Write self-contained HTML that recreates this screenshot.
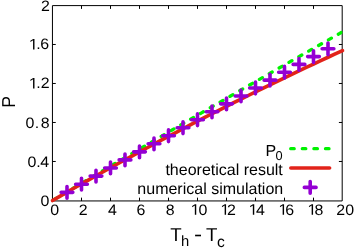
<!DOCTYPE html>
<html><head><meta charset="utf-8">
<style>
html,body{margin:0;padding:0;background:#fff;}
body{width:354px;height:248px;overflow:hidden;}
svg{display:block;will-change:transform;}
text{font-family:"Liberation Sans",sans-serif;fill:#000;text-rendering:geometricPrecision;}
</style></head><body>
<svg width="354" height="248" viewBox="0 0 354 248">
<rect width="354" height="248" fill="#fff"/>
<defs><clipPath id="c"><rect x="52.5" y="5.5" width="290.0" height="195.0"/></clipPath></defs>
<!-- frame -->
<path d="M52.45,5.6 H342.2 V200.95 H52.45 Z" fill="none" stroke="#000" stroke-width="1"/>
<path d="M81.50,200.95 v-3.3 M81.50,5.6 v3.3 M110.50,200.95 v-3.3 M110.50,5.6 v3.3 M139.50,200.95 v-3.3 M139.50,5.6 v3.3 M168.50,200.95 v-3.3 M168.50,5.6 v3.3 M197.50,200.95 v-3.3 M197.50,5.6 v3.3 M226.50,200.95 v-3.3 M226.50,5.6 v3.3 M255.50,200.95 v-3.3 M255.50,5.6 v3.3 M284.50,200.95 v-3.3 M284.50,5.6 v3.3 M313.50,200.95 v-3.3 M313.50,5.6 v3.3 M52.45,161.47 h3.3 M342.2,161.47 h-3.3 M52.45,122.47 h3.3 M342.2,122.47 h-3.3 M52.45,83.47 h3.3 M342.2,83.47 h-3.3 M52.45,44.47 h3.3 M342.2,44.47 h-3.3" stroke="#000" stroke-width="1" fill="none"/>
<!-- green P0 -->
<path d="M52.50,200.50 L56.12,198.34 L59.75,196.19 L63.38,194.03 L67.00,191.88 L70.62,189.73 L74.25,187.58 L77.88,185.43 L81.50,183.28 L85.12,181.13 L88.75,178.99 L92.38,176.84 L96.00,174.70 L99.62,172.56 L103.25,170.42 L106.88,168.28 L110.50,166.14 L114.12,164.00 L117.75,161.87 L121.38,159.73 L125.00,157.60 L128.62,155.47 L132.25,153.34 L135.88,151.21 L139.50,149.08 L143.12,146.95 L146.75,144.83 L150.38,142.70 L154.00,140.58 L157.62,138.45 L161.25,136.33 L164.88,134.21 L168.50,132.09 L172.12,129.98 L175.75,127.86 L179.38,125.74 L183.00,123.63 L186.62,121.52 L190.25,119.41 L193.88,117.30 L197.50,115.19 L201.12,113.08 L204.75,110.97 L208.38,108.87 L212.00,106.76 L215.62,104.66 L219.25,102.56 L222.88,100.46 L226.50,98.36 L230.12,96.26 L233.75,94.16 L237.38,92.07 L241.00,89.97 L244.62,87.88 L248.25,85.79 L251.88,83.70 L255.50,81.61 L259.12,79.52 L262.75,77.43 L266.38,75.35 L270.00,73.26 L273.62,71.18 L277.25,69.10 L280.88,67.02 L284.50,64.94 L288.12,62.86 L291.75,60.78 L295.38,58.70 L299.00,56.63 L302.62,54.56 L306.25,52.48 L309.88,50.41 L313.50,48.34 L317.12,46.27 L320.75,44.21 L324.38,42.14 L328.00,40.07 L331.62,38.01 L335.25,35.95 L338.88,33.89 L342.50,31.82" fill="none" stroke="#00f200" stroke-width="3.3" stroke-linecap="round" stroke-dasharray="3.4 7.96" stroke-dashoffset="10.11" clip-path="url(#c)"/>
<!-- red theory -->
<path d="M52.50,200.50 L59.75,196.33 L67.00,192.18 L74.25,188.05 L81.50,183.94 L88.75,179.86 L96.00,175.79 L103.25,171.75 L110.50,167.73 L117.75,163.74 L125.00,159.76 L132.25,155.81 L139.50,151.87 L146.75,147.96 L154.00,144.07 L161.25,140.20 L168.50,136.36 L175.75,132.54 L183.00,128.73 L190.25,124.95 L197.50,121.19 L204.75,117.46 L212.00,113.74 L219.25,110.05 L226.50,106.38 L233.75,102.73 L241.00,99.10 L248.25,95.49 L255.50,91.91 L262.75,88.34 L270.00,84.80 L277.25,81.28 L284.50,77.78 L291.75,74.31 L299.00,70.85 L306.25,67.42 L313.50,64.01 L320.75,60.62 L328.00,57.25 L335.25,53.91 L342.50,50.58" fill="none" stroke="#e2231a" stroke-width="3.6" stroke-linecap="round"/>
<!-- markers -->
<path d="M61.15,192.34 h11.7 M67.00,186.49 v11.7 M75.65,184.20 h11.7 M81.50,178.35 v11.7 M90.15,176.08 h11.7 M96.00,170.23 v11.7 M104.65,167.97 h11.7 M110.50,162.12 v11.7 M119.15,159.89 h11.7 M125.00,154.04 v11.7 M133.65,151.83 h11.7 M139.50,145.98 v11.7 M148.15,143.78 h11.7 M154.00,137.93 v11.7 M162.65,135.76 h11.7 M168.50,129.91 v11.7 M177.15,127.76 h11.7 M183.00,121.91 v11.7 M191.65,119.77 h11.7 M197.50,113.92 v11.7 M206.15,111.80 h11.7 M212.00,105.95 v11.7 M220.65,103.86 h11.7 M226.50,98.01 v11.7 M235.15,95.93 h11.7 M241.00,90.08 v11.7 M249.65,88.02 h11.7 M255.50,82.17 v11.7 M264.15,80.14 h11.7 M270.00,74.29 v11.7 M278.65,72.27 h11.7 M284.50,66.42 v11.7 M293.15,64.42 h11.7 M299.00,58.57 v11.7 M307.65,56.59 h11.7 M313.50,50.74 v11.7 M322.15,48.78 h11.7 M328.00,42.93 v11.7 " fill="none" stroke="#9400d3" stroke-width="3.6" stroke-linecap="round"/>
<!-- legend samples -->
<path d="M290.7,148.7 H330" fill="none" stroke="#00f200" stroke-width="3.3" stroke-linecap="round" stroke-dasharray="3.5 8.1"/>
<path d="M290.8,168 H329.6" fill="none" stroke="#e2231a" stroke-width="3.6" stroke-linecap="round"/>
<path d="M304.35,187.4 h11.7 M310.2,181.55 v11.7" fill="none" stroke="#9400d3" stroke-width="3.6" stroke-linecap="round"/>
<!-- legend text -->
<g font-size="16px">
<text x="265.5" y="155.9">P</text>
<text x="275.5" y="160.4" font-size="12.8px">0</text>
<text x="282.8" y="174.7" text-anchor="end">theoretical result</text>
<text x="283.2" y="194.1" text-anchor="end">numerical simulation</text>
</g>
<!-- tick labels -->
<g font-size="15.2px">
<text transform="translate(50.16,214.70) scale(1.05,1)">0</text>
<text transform="translate(78.86,214.70) scale(1.05,1)">2</text>
<text transform="translate(108.01,214.70) scale(1.05,1)">4</text>
<text transform="translate(136.51,214.70) scale(1.05,1)">6</text>
<text transform="translate(165.76,214.70) scale(1.05,1)">8</text>
<path transform="translate(190.82,214.70) scale(0.007793,-0.007422)" d="M515 0V1237L170 1000V1170L530 1409H696V0Z"/>
<text transform="translate(198.41,214.70) scale(1.05,1)">0</text>
<path transform="translate(220.64,214.70) scale(0.007793,-0.007422)" d="M515 0V1237L170 1000V1170L530 1409H696V0Z"/>
<text transform="translate(227.06,214.70) scale(1.05,1)">2</text>
<path transform="translate(248.82,214.70) scale(0.007793,-0.007422)" d="M515 0V1237L170 1000V1170L530 1409H696V0Z"/>
<text transform="translate(256.11,214.70) scale(1.05,1)">4</text>
<path transform="translate(278.64,214.70) scale(0.007793,-0.007422)" d="M515 0V1237L170 1000V1170L530 1409H696V0Z"/>
<text transform="translate(285.36,214.70) scale(1.05,1)">6</text>
<path transform="translate(307.64,214.70) scale(0.007793,-0.007422)" d="M515 0V1237L170 1000V1170L530 1409H696V0Z"/>
<text transform="translate(314.41,214.70) scale(1.05,1)">8</text>
<text transform="translate(336.30,214.70) scale(1.05,1)">2</text>
<text transform="translate(345.26,214.70) scale(1.05,1)">0</text>
<text transform="translate(41.12,10.80) scale(1.05,1)">2</text>
<path transform="translate(29.05,49.40) scale(0.007793,-0.007422)" d="M515 0V1237L170 1000V1170L530 1409H696V0Z"/>
<text transform="translate(36.15,49.40) scale(1.05,1)">.</text>
<text transform="translate(40.22,49.40) scale(1.05,1)">6</text>
<path transform="translate(29.05,88.40) scale(0.007793,-0.007422)" d="M515 0V1237L170 1000V1170L530 1409H696V0Z"/>
<text transform="translate(36.15,88.40) scale(1.05,1)">.</text>
<text transform="translate(40.66,88.40) scale(1.05,1)">2</text>
<text transform="translate(25.56,127.90) scale(1.05,1)">0</text>
<text transform="translate(34.75,127.90) scale(1.05,1)">.</text>
<text transform="translate(40.82,127.90) scale(1.05,1)">8</text>
<text transform="translate(27.60,167.30) scale(1.05,1)">0</text>
<text transform="translate(36.28,167.30) scale(1.05,1)">.</text>
<text transform="translate(40.21,167.30) scale(1.05,1)">4</text>
<text transform="translate(40.61,206.45) scale(1.05,1)">0</text>
</g>
<!-- axis labels -->
<text transform="translate(15,101.85) rotate(-90) scale(0.94,1)" font-size="18.7px" text-anchor="middle">P</text>
<g font-size="18.7px">
<text x="170.2" y="241">T</text>
<text x="180.9" y="246.2" font-size="14.8px">h</text>
<rect x="195.1" y="234.7" width="5.9" height="1.6" fill="#000"/>
<text x="206.1" y="241">T</text>
<text x="216.9" y="246.5" font-size="15.6px">c</text>
</g>
</svg>
</body></html>
